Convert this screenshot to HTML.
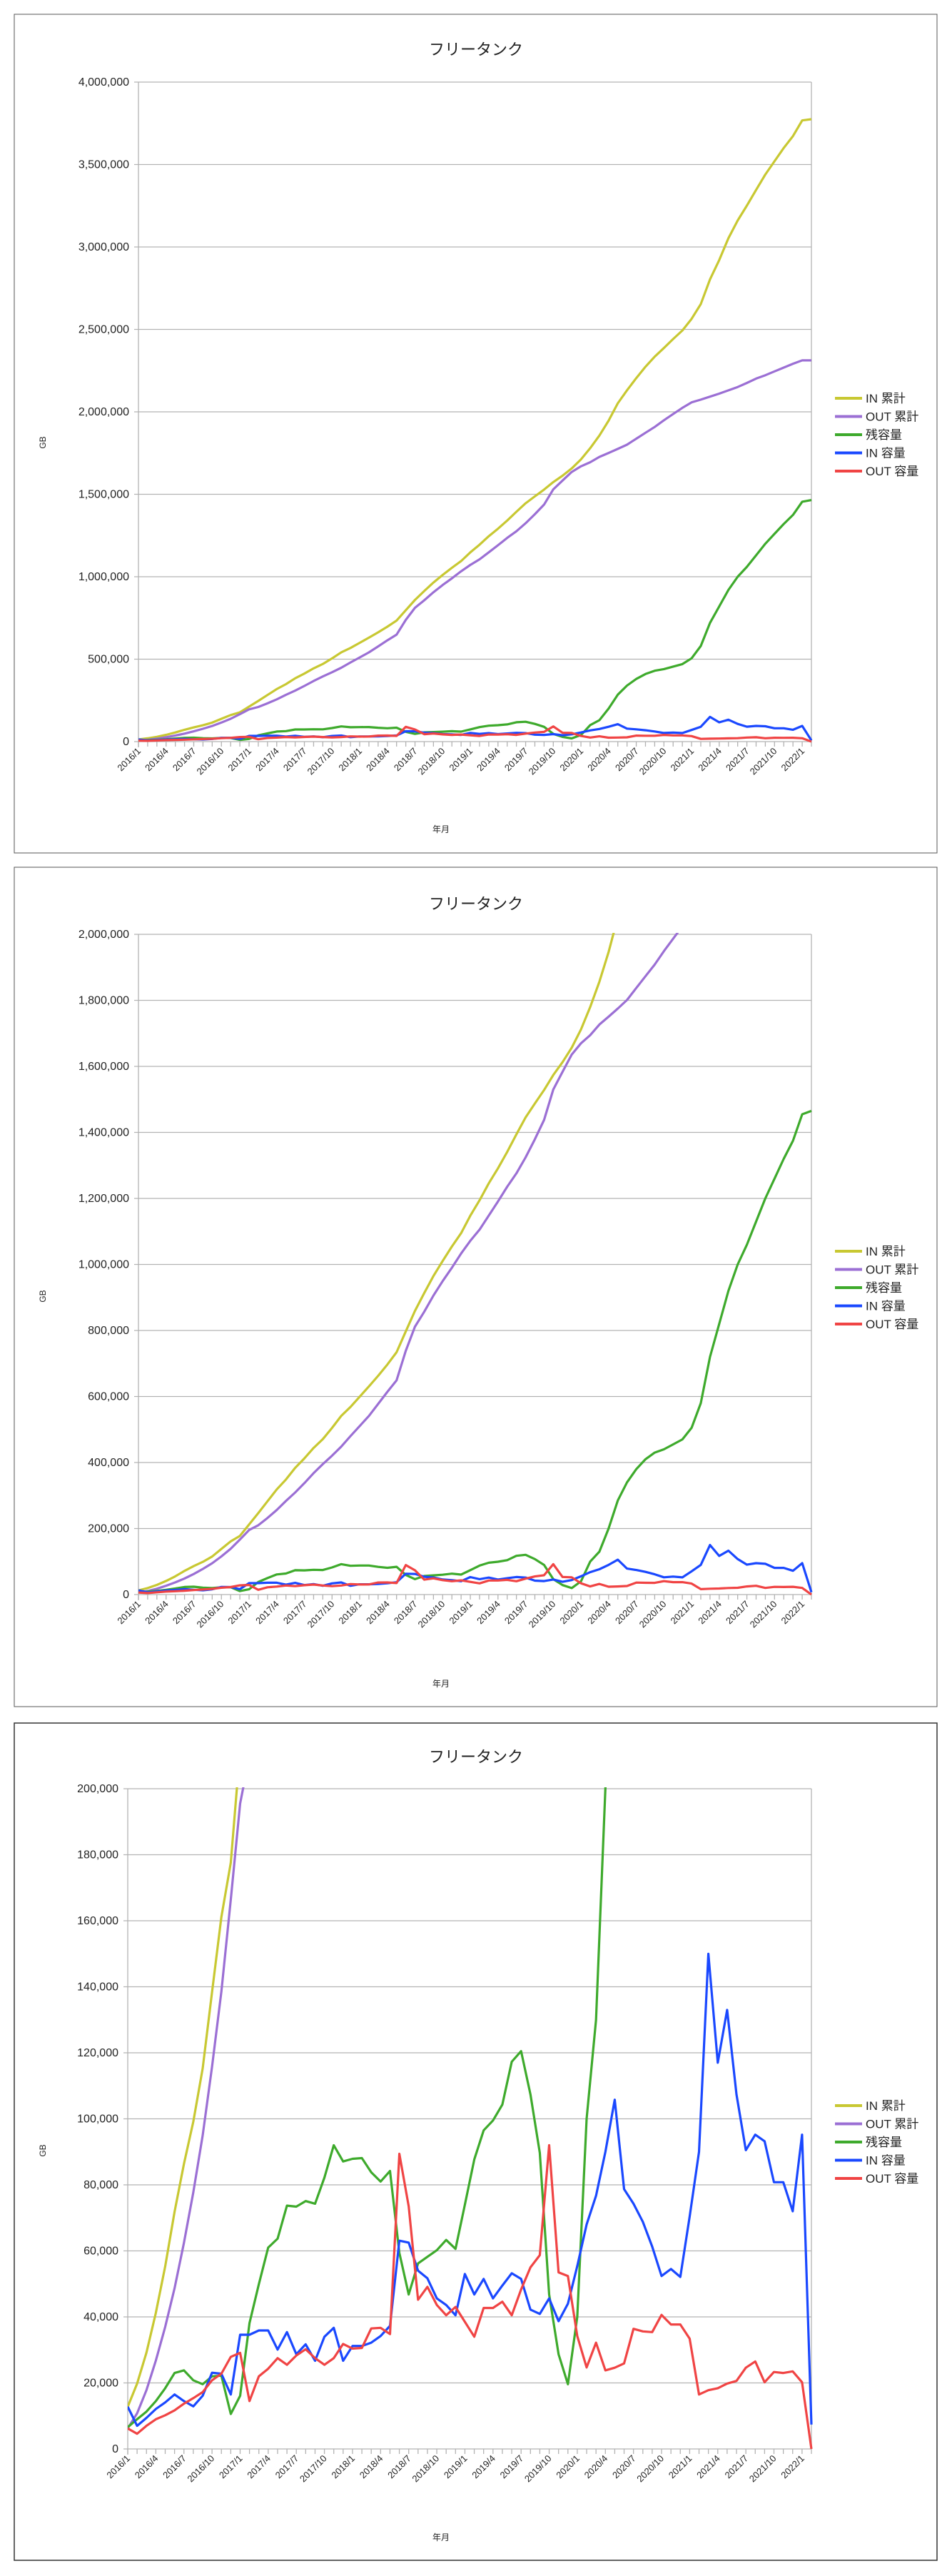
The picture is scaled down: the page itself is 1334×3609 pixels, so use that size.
<!DOCTYPE html>
<html><head><meta charset="utf-8"><style>
html,body{margin:0;padding:0;background:#fff;}
svg{display:block;}
text{font-family:"Liberation Sans","Noto Sans CJK JP",sans-serif;fill:#222;}
.yl{font-size:16px;text-anchor:end;}
.xl{font-size:13px;text-anchor:end;}
.tt{font-size:22px;text-anchor:middle;}
.lg{font-size:17px;}
.ax{font-size:12px;text-anchor:middle;}
</style></head><body>
<svg id="s" width="1334" height="3609" viewBox="0 0 1334 3609" xmlns="http://www.w3.org/2000/svg">
<defs>
<clipPath id="c0"><rect x="194" y="113" width="945" height="930"/></clipPath>
<clipPath id="c1"><rect x="194" y="1307" width="945" height="930"/></clipPath>
<clipPath id="c2"><rect x="179" y="2504" width="960" height="930"/></clipPath>
</defs>
<rect x="20" y="20" width="1293" height="1175" fill="#fff" stroke="#555" stroke-width="1"/>
<rect x="20" y="1215" width="1293" height="1176" fill="#fff" stroke="#555" stroke-width="1"/>
<rect x="20" y="2414" width="1293" height="1173" fill="#fff" stroke="#333" stroke-width="1.5"/>
<g id="g0"></g><g id="g1"></g><g id="g2"></g>

<!-- chart 1 text -->
<text class="tt" x="667" y="77">フリータンク</text>
<text class="yl" x="181" y="1044">0</text>
<text class="yl" x="181" y="928.5">500,000</text>
<text class="yl" x="181" y="813">1,000,000</text>
<text class="yl" x="181" y="697.5">1,500,000</text>
<text class="yl" x="181" y="582">2,000,000</text>
<text class="yl" x="181" y="466.5">2,500,000</text>
<text class="yl" x="181" y="351">3,000,000</text>
<text class="yl" x="181" y="235.5">3,500,000</text>
<text class="yl" x="181" y="120">4,000,000</text>
<text class="ax" transform="translate(64,620) rotate(-90)">GB</text>
<text class="ax" x="618" y="1166">年月</text>
<g id="x0">
<text class="xl">2016/1</text><text class="xl">2016/4</text><text class="xl">2016/7</text><text class="xl">2016/10</text>
<text class="xl">2017/1</text><text class="xl">2017/4</text><text class="xl">2017/7</text><text class="xl">2017/10</text>
<text class="xl">2018/1</text><text class="xl">2018/4</text><text class="xl">2018/7</text><text class="xl">2018/10</text>
<text class="xl">2019/1</text><text class="xl">2019/4</text><text class="xl">2019/7</text><text class="xl">2019/10</text>
<text class="xl">2020/1</text><text class="xl">2020/4</text><text class="xl">2020/7</text><text class="xl">2020/10</text>
<text class="xl">2021/1</text><text class="xl">2021/4</text><text class="xl">2021/7</text><text class="xl">2021/10</text>
<text class="xl">2022/1</text>
</g>
<g id="l0">
<text class="lg">IN 累計</text><text class="lg">OUT 累計</text><text class="lg">残容量</text><text class="lg">IN 容量</text><text class="lg">OUT 容量</text>
</g>

<!-- chart 2 text -->
<text class="tt" x="667" y="1274">フリータンク</text>
<text class="yl" x="181" y="2239">0</text>
<text class="yl" x="181" y="2146.5">200,000</text>
<text class="yl" x="181" y="2054">400,000</text>
<text class="yl" x="181" y="1961.5">600,000</text>
<text class="yl" x="181" y="1869">800,000</text>
<text class="yl" x="181" y="1776.5">1,000,000</text>
<text class="yl" x="181" y="1684">1,200,000</text>
<text class="yl" x="181" y="1591.5">1,400,000</text>
<text class="yl" x="181" y="1499">1,600,000</text>
<text class="yl" x="181" y="1406.5">1,800,000</text>
<text class="yl" x="181" y="1314">2,000,000</text>
<text class="ax" transform="translate(64,1816) rotate(-90)">GB</text>
<text class="ax" x="618" y="2363">年月</text>
<g id="x1">
<text class="xl">2016/1</text><text class="xl">2016/4</text><text class="xl">2016/7</text><text class="xl">2016/10</text>
<text class="xl">2017/1</text><text class="xl">2017/4</text><text class="xl">2017/7</text><text class="xl">2017/10</text>
<text class="xl">2018/1</text><text class="xl">2018/4</text><text class="xl">2018/7</text><text class="xl">2018/10</text>
<text class="xl">2019/1</text><text class="xl">2019/4</text><text class="xl">2019/7</text><text class="xl">2019/10</text>
<text class="xl">2020/1</text><text class="xl">2020/4</text><text class="xl">2020/7</text><text class="xl">2020/10</text>
<text class="xl">2021/1</text><text class="xl">2021/4</text><text class="xl">2021/7</text><text class="xl">2021/10</text>
<text class="xl">2022/1</text>
</g>
<g id="l1">
<text class="lg">IN 累計</text><text class="lg">OUT 累計</text><text class="lg">残容量</text><text class="lg">IN 容量</text><text class="lg">OUT 容量</text>
</g>

<!-- chart 3 text -->
<text class="tt" x="667" y="2469">フリータンク</text>
<text class="yl" x="166" y="3436">0</text>
<text class="yl" x="166" y="3343.5">20,000</text>
<text class="yl" x="166" y="3251">40,000</text>
<text class="yl" x="166" y="3158.5">60,000</text>
<text class="yl" x="166" y="3066">80,000</text>
<text class="yl" x="166" y="2973.5">100,000</text>
<text class="yl" x="166" y="2881">120,000</text>
<text class="yl" x="166" y="2788.5">140,000</text>
<text class="yl" x="166" y="2696">160,000</text>
<text class="yl" x="166" y="2603.5">180,000</text>
<text class="yl" x="166" y="2511">200,000</text>
<text class="ax" transform="translate(64,3013) rotate(-90)">GB</text>
<text class="ax" x="618" y="3559">年月</text>
<g id="x2">
<text class="xl">2016/1</text><text class="xl">2016/4</text><text class="xl">2016/7</text><text class="xl">2016/10</text>
<text class="xl">2017/1</text><text class="xl">2017/4</text><text class="xl">2017/7</text><text class="xl">2017/10</text>
<text class="xl">2018/1</text><text class="xl">2018/4</text><text class="xl">2018/7</text><text class="xl">2018/10</text>
<text class="xl">2019/1</text><text class="xl">2019/4</text><text class="xl">2019/7</text><text class="xl">2019/10</text>
<text class="xl">2020/1</text><text class="xl">2020/4</text><text class="xl">2020/7</text><text class="xl">2020/10</text>
<text class="xl">2021/1</text><text class="xl">2021/4</text><text class="xl">2021/7</text><text class="xl">2021/10</text>
<text class="xl">2022/1</text>
</g>
<g id="l2">
<text class="lg">IN 累計</text><text class="lg">OUT 累計</text><text class="lg">残容量</text><text class="lg">IN 容量</text><text class="lg">OUT 容量</text>
</g>
</svg>
<script>
(function(){
var NS="http://www.w3.org/2000/svg";
var IN=[12.8,7,9.4,12.1,14.1,16.5,14.5,12.9,16.1,23.1,22.8,16.5,
34.6,34.6,35.9,35.9,30.1,35.4,28.7,31.7,26.7,34,36.7,26.7,
31.2,31.2,32.2,34.2,37.3,63.1,62.5,54,51.7,45.6,43.6,40.5,
53,46.8,51.5,45.6,49.5,53.2,51.5,42.2,40.9,45.6,38.7,44,
55.4,68,76.7,90,105.8,78.7,74.3,68.8,61.3,52.4,54.5,52.1,
70.4,90,150,117,133,107.4,90.5,95.2,93.2,80.8,80.8,72,95.2,7.4];
var OUT=[6.2,4.6,7,9,10.2,11.7,13.7,15.4,17.2,20.8,22.8,27.9,
29.1,14.5,22,24.3,27.5,25.5,28.3,30.2,27.5,25.5,27.5,31.8,
30.4,30.6,36.5,36.7,34.8,89.4,73.5,45.2,49.1,43.6,40.5,43,
38.5,34,42.7,42.7,44.6,40.5,48.3,55,58.7,92,53.5,52.4,
34.2,24.7,32.2,23.8,24.6,25.9,36.4,35.6,35.4,40.6,37.7,37.7,
33.4,16.5,17.8,18.4,19.8,20.6,24.6,26.5,20.2,23.3,23,23.5,20.2,0];
var GR=[6.6,9,11.3,14.5,18.4,23,23.8,20.8,19.6,22,22.2,10.6,
16.1,38.1,49.9,61,63.7,73.7,73.4,75.1,74.3,82.2,92,87.1,
87.9,88.1,83.8,81,84.2,59.4,46.8,56.2,58.2,60.2,63.3,60.6,
74,87.7,96.5,99.5,104.3,117.3,120.5,107.4,89.7,46.8,28.7,19.6,
40,100,130,200,285,340,380,410,430,440,455,470,
505,580,720,820,920,1000,1060,1130,1200,1260,1320,1375,1455,1465];
function cum(a){var s=0;return a.map(function(v){s+=v;return s;});}
var CI=cum(IN),CO=cum(OUT);
// scale cumulative to reference end values
var fi=3775/CI[73],fo=2312/CO[73];
CI=CI.map(function(v){return v*fi;});CO=CO.map(function(v){return v*fo;});
var series=[[CI,"#c8c832"],[CO,"#9b6fd4"],[GR,"#3eaa2c"],[IN,"#1a48ff"],[OUT,"#f04444"]];
var charts=[
{x0:194,x1:1137,y0:115,y1:1039,max:4000,n:8,g:"g0",xl:"x0",l:"l0",ly:558,c:"c0"},
{x0:194,x1:1137,y0:1309,y1:2234,max:2000,n:10,g:"g1",xl:"x1",l:"l1",ly:1753,c:"c1"},
{x0:179,x1:1137,y0:2506,y1:3431,max:200,n:10,g:"g2",xl:"x2",l:"l2",ly:2950,c:"c2"}];
function el(n,a,p){var e=document.createElementNS(NS,n);for(var k in a)e.setAttribute(k,a[k]);p.appendChild(e);return e;}
charts.forEach(function(c){
  var g=document.getElementById(c.g);
  var dy=(c.y1-c.y0)/c.n;
  for(var i=0;i<=c.n;i++){var y=c.y0+i*dy;
    el("line",{x1:c.x0-6,x2:c.x1,y1:y,y2:y,stroke:"#b3b3b3","stroke-width":1.3},g);}
  el("line",{x1:c.x0,x2:c.x0,y1:c.y0,y2:c.y1+8,stroke:"#b3b3b3","stroke-width":1.3},g);
  el("line",{x1:c.x1,x2:c.x1,y1:c.y0,y2:c.y1,stroke:"#b3b3b3","stroke-width":1.3},g);
  var sx=(c.x1-c.x0)/73;
  for(var m=0;m<74;m++){var x=c.x0+m*sx;
    el("line",{x1:x,x2:x,y1:c.y1,y2:c.y1+7,stroke:"#b3b3b3","stroke-width":1.3},g);}
  var pg=el("g",{"clip-path":"url(#"+c.c+")"},g);
  series.forEach(function(s){
    var pts=s[0].map(function(v,m){return (c.x0+m*sx).toFixed(1)+","+(c.y1-v/c.max*(c.y1-c.y0)).toFixed(1);}).join(" ");
    el("polyline",{points:pts,fill:"none",stroke:s[1],"stroke-width":3.2,"stroke-linejoin":"round"},pg);
  });
  var xt=document.getElementById(c.xl).children;
  for(var i=0;i<xt.length;i++){var x=c.x0+i*3*sx;
    xt[i].setAttribute("transform","translate("+(x+4)+","+(c.y1+14)+") rotate(-45)");}
  var lt=document.getElementById(c.l).children;
  for(var i=0;i<lt.length;i++){var y=c.ly+i*25.5;
    el("line",{x1:1170,x2:1208,y1:y,y2:y,stroke:series[i][1],"stroke-width":4},g);
    lt[i].setAttribute("x",1213);lt[i].setAttribute("y",y+6);}
});
})();
</script>
</body></html>
